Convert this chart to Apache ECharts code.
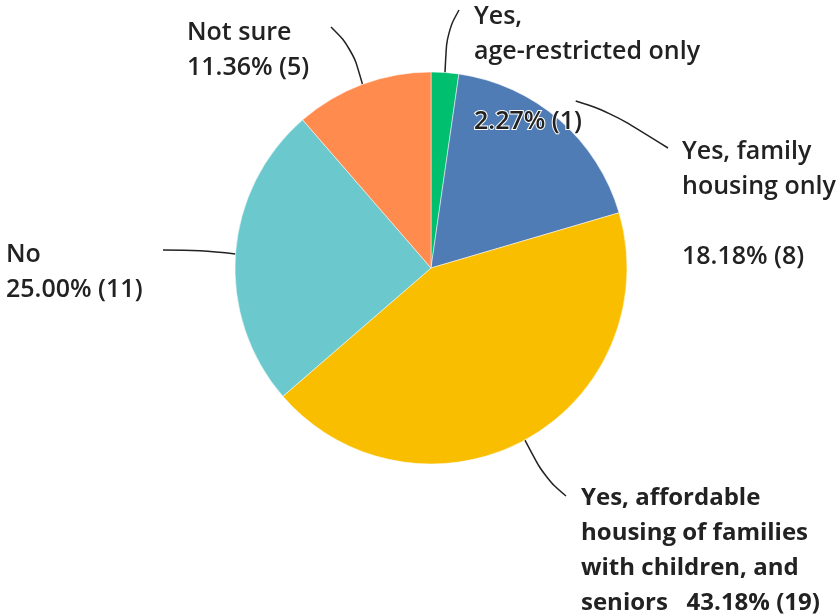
<!DOCTYPE html>
<html>
<head>
<meta charset="utf-8">
<script src="https://cdn.jsdelivr.net/npm/echarts@6/dist/echarts.min.js"></script>
<style>
  html, body { margin: 0; padding: 0; background: #fff; }
  #chart { width: 840px; height: 614px; }
</style>
</head>
<body>
<div id="chart"></div>
<script>
// Survey answers, in clockwise order from 12 o'clock
const categories = [
  'Yes,\nage-restricted only',
  'Yes, family\nhousing only',
  'Yes, affordable\nhousing of families\nwith children, and\nseniors',
  'No',
  'Not sure'
];
const counts = [1, 8, 19, 11, 5];
const percents = ['2.27%', '18.18%', '43.18%', '25.00%', '11.36%'];
const colors = ['#00bf6f', '#507cb6', '#f9be00', '#6bc8cd', '#ff8b4f'];

// How the value line joins the name: blank line, new line, or same line
const valueJoin = ['\n\n', '\n\n', '   ', '\n', '\n'];

// Label placement: top-left corner of each label, the bend and end of its leader line,
// and how far outside the rim the leader starts
const labelPos = [[474, -1], [682, 134], [581, 481], [6, 237], [187, 15]];
const lineMid = [[447, 32], [610, 112], [545, 478], [200, 250], [352, 48]];
const lineEnd = [[459, 10], [668, 148], [566, 496], [163, 250], [331, 27]];
const lineGap = [0, 25, 0, 0, 0];
const labelBold = [false, false, true, false, false];

const CX = 431, CY = 268, R = 196;

const chart = echarts.init(document.getElementById('chart'), null, { renderer: 'canvas' });

const total = counts.reduce((a, b) => a + b, 0);
const data = categories.map((name, i) => ({
  name: name,
  value: counts[i],
  itemStyle: { color: colors[i] },
  label: Object.assign(
    { formatter: name + valueJoin[i] + percents[i] + ' (' + counts[i] + ')' },
    labelBold[i] ? { fontWeight: 700, fontSize: 24 } : {}
  )
}));

// angle of each slice midpoint (clockwise from top)
const midAngles = [];
let acc = 0;
counts.forEach(v => {
  midAngles.push((acc + v / 2) / total * Math.PI * 2);
  acc += v;
});

chart.setOption({
  animation: false,
  backgroundColor: '#fff',
  series: [{
    type: 'pie',
    center: [CX, CY],
    radius: [0, R],
    startAngle: 90,
    clockwise: true,
    data: data,
    itemStyle: { borderColor: '#fff', borderWidth: 0.5 },
    label: {
      show: true,
      position: 'outside',
      color: '#222',
      fontFamily: 'Open Sans',
      fontWeight: 600,
      fontSize: 25,
      lineHeight: 35,
      align: 'left',
      textBorderColor: '#fff',
      textBorderWidth: 2
    },
    labelLine: {
      show: true,
      smooth: 0.4,
      lineStyle: { color: '#222', width: 1.5 }
    },
    labelLayout: function (params) {
      const i = params.dataIndex;
      const a = midAngles[i];
      const r = R + lineGap[i];
      const start = [CX + r * Math.sin(a), CY - r * Math.cos(a)];
      return {
        x: labelPos[i][0],
        y: labelPos[i][1],
        align: 'left',
        verticalAlign: 'top',
        labelLinePoints: [start, lineMid[i], lineEnd[i]]
      };
    }
  }]
});
</script>
</body>
</html>
